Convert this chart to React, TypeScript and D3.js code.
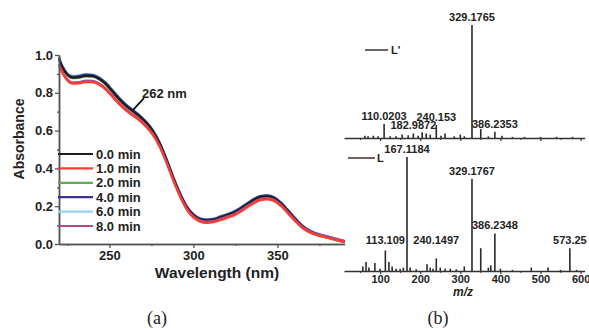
import React, { useEffect, useRef } from 'react';
import { select, scaleLinear, line, curveMonotoneX, axisBottom, axisLeft, format } from 'd3';

const FONT = 'Arial, "Liberation Sans", Helvetica, sans-serif';

// panel (a): UV-vis spectra
const wavelengths = [220, 222, 225, 228, 232, 236, 240, 244, 248, 252, 256, 260, 264, 268, 272, 276, 280, 284, 288, 292, 296, 300, 304, 308, 312, 316, 320, 324, 328, 332, 336, 340, 344, 348, 352, 356, 360, 364, 368, 372, 376, 380, 384, 388, 390];
const abs00 = [0.98, 0.935, 0.895, 0.88, 0.883, 0.89, 0.888, 0.873, 0.845, 0.805, 0.765, 0.73, 0.703, 0.675, 0.64, 0.595, 0.53, 0.445, 0.35, 0.265, 0.195, 0.152, 0.13, 0.124, 0.128, 0.14, 0.152, 0.166, 0.186, 0.21, 0.233, 0.249, 0.252, 0.242, 0.215, 0.177, 0.137, 0.1, 0.073, 0.056, 0.045, 0.036, 0.026, 0.016, 0.012];
const abs10 = [0.945, 0.905, 0.865, 0.848, 0.85, 0.857, 0.856, 0.842, 0.815, 0.777, 0.738, 0.705, 0.679, 0.653, 0.619, 0.575, 0.512, 0.428, 0.335, 0.251, 0.182, 0.14, 0.118, 0.111, 0.115, 0.126, 0.138, 0.151, 0.17, 0.194, 0.216, 0.232, 0.236, 0.227, 0.201, 0.164, 0.126, 0.091, 0.066, 0.05, 0.04, 0.032, 0.023, 0.014, 0.01];
const abs20 = [0.977, 0.932, 0.892, 0.877, 0.88, 0.887, 0.885, 0.87, 0.842, 0.802, 0.762, 0.727, 0.7, 0.672, 0.637, 0.592, 0.527, 0.442, 0.347, 0.262, 0.192, 0.149, 0.127, 0.121, 0.125, 0.137, 0.149, 0.163, 0.183, 0.207, 0.23, 0.246, 0.249, 0.239, 0.212, 0.174, 0.134, 0.097, 0.07, 0.053, 0.042, 0.033, 0.023, 0.014, 0.01];
const abs40 = [0.985, 0.94, 0.9, 0.886, 0.889, 0.896, 0.894, 0.879, 0.851, 0.811, 0.771, 0.736, 0.708, 0.68, 0.645, 0.6, 0.535, 0.45, 0.355, 0.27, 0.2, 0.157, 0.135, 0.129, 0.133, 0.145, 0.157, 0.171, 0.191, 0.215, 0.238, 0.254, 0.257, 0.247, 0.22, 0.182, 0.142, 0.104, 0.077, 0.06, 0.048, 0.039, 0.029, 0.019, 0.014];
const abs60 = [0.99, 0.945, 0.905, 0.891, 0.894, 0.9, 0.898, 0.883, 0.854, 0.814, 0.773, 0.737, 0.709, 0.681, 0.646, 0.601, 0.536, 0.451, 0.356, 0.271, 0.201, 0.158, 0.136, 0.13, 0.134, 0.146, 0.158, 0.172, 0.192, 0.216, 0.239, 0.255, 0.258, 0.248, 0.221, 0.183, 0.143, 0.105, 0.078, 0.061, 0.049, 0.04, 0.03, 0.02, 0.015];
const abs80 = [0.952, 0.912, 0.872, 0.855, 0.857, 0.864, 0.863, 0.849, 0.822, 0.784, 0.745, 0.712, 0.686, 0.66, 0.626, 0.582, 0.519, 0.435, 0.342, 0.258, 0.189, 0.147, 0.125, 0.118, 0.122, 0.133, 0.145, 0.158, 0.177, 0.201, 0.223, 0.239, 0.243, 0.234, 0.208, 0.171, 0.133, 0.098, 0.073, 0.057, 0.047, 0.039, 0.03, 0.021, 0.017];

const seriesNames = ['0.0 min', '1.0 min', '2.0 min', '4.0 min', '6.0 min', '8.0 min'];
const seriesValues = [abs00, abs10, abs20, abs40, abs60, abs80];
const seriesColors = ['#1c1c1c', '#ff3b2c', '#62a95c', '#37348e', '#92d3ee', '#b24c88'];
const drawOrder = [4, 3, 2, 0, 5, 1];

const absTicks = [0, 0.2, 0.4, 0.6, 0.8, 1.0];
const absMinor = [0.1, 0.3, 0.5, 0.7, 0.9];
const wlTicks = [250, 300, 350];
const wlMinor = [225, 275, 325, 375];

// panel (b): mass spectra, relative intensity (%)
const mzUpper = [62, 70, 83, 95, 110.0203, 125, 140, 155, 170, 182.9872, 195, 205, 215, 225, 240.153, 252, 262, 285, 300, 310, 329.1765, 351, 370, 386.2353, 404, 430, 460, 500, 540, 580];
const intUpper = [2, 1.5, 2, 1.5, 12.5, 1.5, 1.5, 3, 2.5, 4, 2, 5, 4, 3, 11.5, 2, 4, 1.5, 3, 1.5, 100, 8, 1.5, 5.5, 2, 1, 1, 1, 1, 1];
const labelsUpper = ['110.0203', '182.9872', '240.153', '329.1765', '386.2353'];

const mzLower = [57, 65, 72, 87, 100, 113.109, 122, 130, 140, 150, 158, 167.1184, 175, 190, 217, 225, 232, 240.1497, 250, 262, 275, 290, 310, 329.1767, 351, 370, 376, 386.2348, 400, 430, 477, 519, 550, 573.25, 590];
const intLower = [4, 8, 3, 7, 2, 18, 8, 4, 2, 2, 3, 100, 3, 1.5, 6, 3, 2, 11, 3, 2, 2, 1.5, 4, 81, 20, 3, 5, 33, 2, 1, 3, 3, 1, 20, 1];
const labelsLower = ['113.109', '167.1184', '240.1497', '329.1767', '386.2348', '573.25'];

const mzTicks = [100, 200, 300, 400, 500, 600];
const mzMinor = [50, 150, 250, 350, 450, 550];

const renderChart = (svgNode) => {
  const svg = select(svgNode);
  svg.selectAll('*').remove();

  // ---------- panel (a)
  const x = scaleLinear().domain([220, 390]).range([59, 344.6]);
  const y = scaleLinear().domain([0, 1]).range([244, 55]);

  const gA = svg.append('g');

  const lineGen = line()
    .x((d, i) => x(wavelengths[i]))
    .y(d => y(d))
    .curve(curveMonotoneX);

  drawOrder.forEach(k => {
    gA.append('path')
      .attr('d', lineGen(seriesValues[k]))
      .attr('fill', 'none')
      .attr('stroke', seriesColors[k])
      .attr('stroke-width', 2.2);
  });

  const styleAxis = (g, size) => {
    g.select('.domain').attr('stroke', '#555').attr('stroke-width', 1.5);
    g.selectAll('.tick line').attr('stroke', '#555').attr('stroke-width', 1.3);
    g.selectAll('text')
      .attr('fill', '#222')
      .attr('font-family', FONT)
      .attr('font-weight', 'bold')
      .attr('font-size', size);
  };

  const yAxis = gA.append('g').attr('transform', 'translate(59,0)')
    .call(axisLeft(y).tickValues(absTicks).tickSize(4).tickSizeOuter(0).tickPadding(2).tickFormat(format('.1f')));
  styleAxis(yAxis, 13);
  const yMinor = gA.append('g').attr('transform', 'translate(59,0)')
    .call(axisLeft(y).tickValues(absMinor).tickSize(2).tickSizeOuter(0).tickFormat(() => ''));
  styleAxis(yMinor, 13);

  const xAxis = gA.append('g').attr('transform', 'translate(0,244)')
    .call(axisBottom(x).tickValues(wlTicks).tickSize(4).tickSizeOuter(0).tickPadding(3));
  styleAxis(xAxis, 13);
  const xMinor = gA.append('g').attr('transform', 'translate(0,244)')
    .call(axisBottom(x).tickValues(wlMinor).tickSize(2).tickSizeOuter(0).tickFormat(() => ''));
  styleAxis(xMinor, 13);

  gA.append('text')
    .attr('x', 217).attr('y', 278)
    .attr('text-anchor', 'middle')
    .attr('font-family', FONT).attr('font-weight', 'bold').attr('font-size', 15.5)
    .attr('fill', '#222')
    .text('Wavelength (nm)');

  gA.append('text')
    .attr('transform', 'translate(24,139) rotate(-90)')
    .attr('text-anchor', 'middle')
    .attr('font-family', FONT).attr('font-weight', 'bold').attr('font-size', 14)
    .attr('fill', '#222')
    .text('Absorbance');

  // legend
  const legend = gA.append('g');
  seriesNames.forEach((name, i) => {
    const ly = 154 + i * 14.4;
    legend.append('line')
      .attr('x1', 58).attr('x2', 93).attr('y1', ly).attr('y2', ly)
      .attr('stroke', seriesColors[i]).attr('stroke-width', 2.2);
    legend.append('text')
      .attr('x', 96).attr('y', ly + 4.5)
      .attr('font-family', FONT).attr('font-weight', 'bold').attr('font-size', 13)
      .attr('fill', '#222')
      .text(name);
  });

  // 262 nm annotation
  const ax = x(264);
  const ay = y(abs00[wavelengths.indexOf(264)]) - 1;
  gA.append('line')
    .attr('x1', ax).attr('y1', ay).attr('x2', ax + 11).attr('y2', ay - 12)
    .attr('stroke', '#111').attr('stroke-width', 1.8);
  gA.append('text')
    .attr('x', 142).attr('y', 98)
    .attr('font-family', FONT).attr('font-weight', 'bold').attr('font-size', 13)
    .attr('fill', '#222')
    .text('262 nm');

  // ---------- panel (b)
  const xb = scaleLinear().domain([10, 610]).range([344, 584.6]);
  const yUp = scaleLinear().domain([0, 100]).range([138, 25]);
  const yLo = scaleLinear().domain([0, 100]).range([271, 157]);

  const gB = svg.append('g');

  const drawSpectrum = (mz, inten, labels, yS, base, withLabels, minLabel) => {
    const g = gB.append('g');
    const ax1 = g.append('g').attr('transform', `translate(0,${base})`)
      .call(axisBottom(xb).tickValues(mzTicks).tickSize(3).tickSizeOuter(0).tickPadding(1)
        .tickFormat(withLabels ? format('d') : () => ''));
    ax1.select('.domain').attr('stroke', '#333').attr('stroke-width', 1.4);
    ax1.selectAll('.tick line').attr('stroke', '#333').attr('stroke-width', 1.2);
    ax1.selectAll('text').attr('fill', '#222').attr('font-family', FONT)
      .attr('font-weight', 'bold').attr('font-size', 11);
    const ax2 = g.append('g').attr('transform', `translate(0,${base})`)
      .call(axisBottom(xb).tickValues(mzMinor).tickSize(2).tickSizeOuter(0).tickFormat(() => ''));
    ax2.select('.domain').remove();
    ax2.selectAll('.tick line').attr('stroke', '#333').attr('stroke-width', 1);

    g.selectAll('line.peak').data(mz).enter().append('line')
      .attr('class', 'peak')
      .attr('x1', d => xb(d)).attr('x2', d => xb(d))
      .attr('y1', base).attr('y2', (d, i) => yS(inten[i]))
      .attr('stroke', '#2a2a2a').attr('stroke-width', 1.6);

    labels.forEach(lab => {
      const i = mz.indexOf(parseFloat(lab));
      g.append('text')
        .attr('x', xb(mz[i])).attr('y', yS(Math.max(inten[i], minLabel)) - 4)
        .attr('text-anchor', 'middle')
        .attr('font-family', FONT).attr('font-weight', 'bold').attr('font-size', 11)
        .attr('fill', '#222')
        .text(lab);
    });
  };

  drawSpectrum(mzUpper, intUpper, labelsUpper, yUp, 138, false, 0);
  drawSpectrum(mzLower, intLower, labelsLower, yLo, 271, true, 20);

  gB.append('text')
    .attr('x', 463).attr('y', 296)
    .attr('text-anchor', 'middle')
    .attr('font-family', FONT).attr('font-weight', 'bold').attr('font-style', 'italic').attr('font-size', 12)
    .attr('fill', '#222')
    .text('m/z');

  // L' / L legends
  gB.append('line').attr('x1', 365).attr('x2', 388).attr('y1', 50).attr('y2', 50)
    .attr('stroke', '#333').attr('stroke-width', 1.5);
  gB.append('text').attr('x', 391).attr('y', 54)
    .attr('font-family', FONT).attr('font-weight', 'bold').attr('font-size', 11).attr('fill', '#222')
    .text("L'");
  gB.append('line').attr('x1', 348).attr('x2', 375).attr('y1', 158).attr('y2', 158)
    .attr('stroke', '#4a2a2a').attr('stroke-width', 1.5);
  gB.append('text').attr('x', 377).attr('y', 162)
    .attr('font-family', FONT).attr('font-weight', 'bold').attr('font-size', 11).attr('fill', '#222')
    .text('L');

  // captions
  svg.append('text').attr('x', 157).attr('y', 324).attr('text-anchor', 'middle')
    .attr('font-family', '"Liberation Serif", "Times New Roman", serif').attr('font-size', 18).attr('fill', '#222')
    .text('(a)');
  svg.append('text').attr('x', 438).attr('y', 324).attr('text-anchor', 'middle')
    .attr('font-family', '"Liberation Serif", "Times New Roman", serif').attr('font-size', 18).attr('fill', '#222')
    .text('(b)');
};

export default function App() {
  const ref = useRef(null);
  useEffect(() => {
    if (ref.current) renderChart(ref.current);
  }, []);
  return (
    <svg
      ref={ref}
      width={589}
      height={328}
      style={{ position: 'absolute', left: 0, top: 0, background: '#fff' }}
    />
  );
}
